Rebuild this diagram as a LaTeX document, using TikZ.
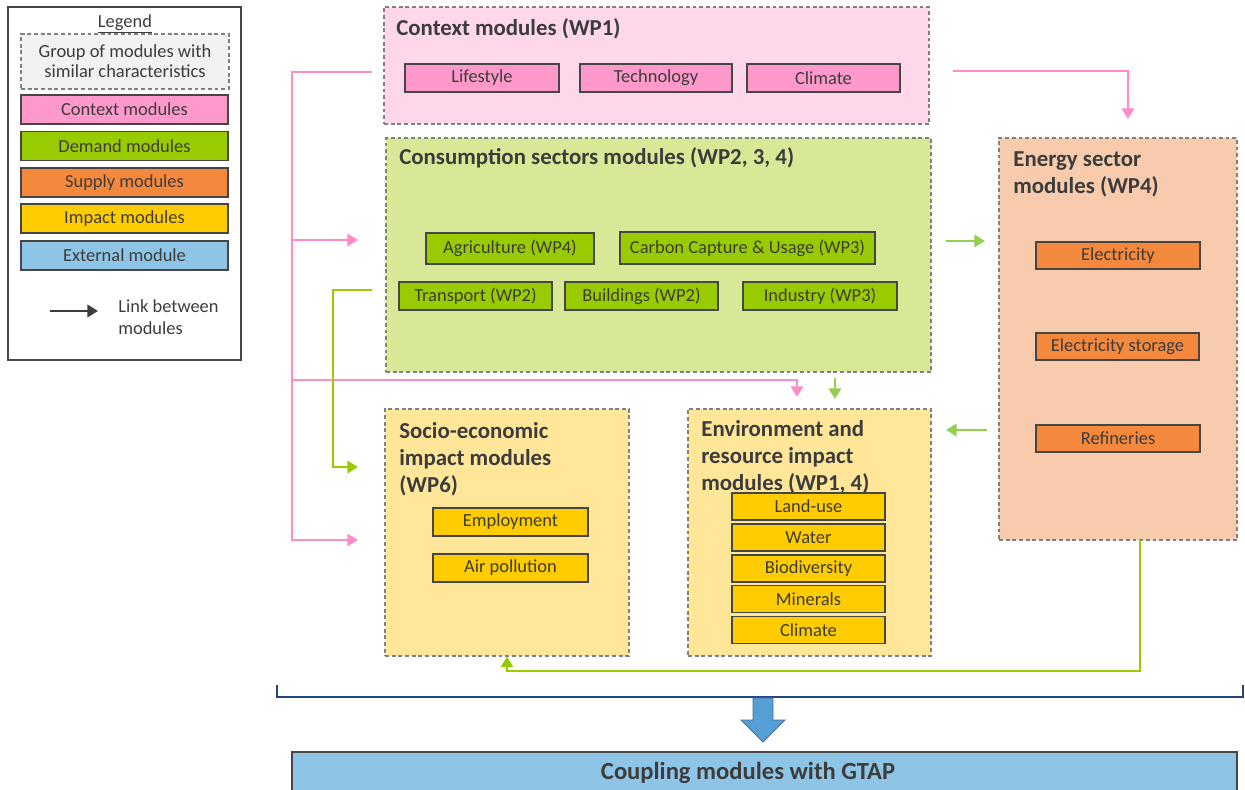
\documentclass[tikz,border=0pt]{standalone}
\usepackage{fontspec}
\setmainfont{Carlito}
\usetikzlibrary{
  arrows.meta,
  fit
}
\definecolor{txtgray}{RGB}{60,60,60}
\definecolor{boxline}{RGB}{70,70,70}
\definecolor{grpline}{RGB}{128,128,128}
\definecolor{lggray}{RGB}{242,242,242}
\definecolor{ctxbg}{RGB}{255,215,234}
\definecolor{ctxbox}{RGB}{255,153,204}
\definecolor{consbg}{RGB}{215,232,150}
\definecolor{consbox}{RGB}{153,204,0}
\definecolor{enbg}{RGB}{248,203,173}
\definecolor{enbox}{RGB}{244,136,60}
\definecolor{impbg}{RGB}{255,230,153}
\definecolor{impbox}{RGB}{255,204,0}
\definecolor{extbox}{RGB}{142,196,230}
\definecolor{extarrow}{RGB}{84,160,213}
\definecolor{pinkline}{RGB}{255,140,200}
\definecolor{greenA}{RGB}{153,204,0}
\definecolor{greenB}{RGB}{146,208,80}
\definecolor{navyline}{RGB}{31,73,125}

\begin{document}
\begin{tikzpicture}[x=0.02cm, y=-0.02cm,
  every node/.style={font=\fontsize{10.5}{11.5}\selectfont, text=txtgray},
  group/.style={draw=grpline, dash pattern=on 2.2pt off 1.6pt, line width=0.7pt, inner sep=0pt},
  title/.style={anchor=west, inner sep=0pt, align=left, font=\fontsize{13}{15.3}\selectfont\bfseries},
  modbox/.style={draw=boxline, line width=0.8pt, inner sep=0pt, minimum height=0.56cm},
  pinkln/.style={draw=pinkline, line width=1.4pt, -{Triangle[length=6pt,width=7pt]}},
  greenln/.style={draw=greenA, line width=1.4pt, -{Triangle[length=6pt,width=7pt]}},
  lightln/.style={draw=greenB, line width=1.4pt, -{Triangle[length=6pt,width=7pt]}},
  linkln/.style={draw=txtgray, line width=1.4pt, -{Triangle[length=6pt,width=7pt]}}
]
\useasboundingbox (0,0) rectangle (1245,790);

% legend
\node[draw=boxline, line width=0.6pt, inner sep=0pt, fit={(8,7) (241,360)}] (legend) {};
\node (legT) at (125,24) {\underline{Legend}};
\node[group, fill=lggray, fit={(21,34) (229,89)}] (lgGroup) {};
\node[align=center] (lgGroupT) at (lgGroup) {Group of modules with\\similar characteristics};
\node[modbox, fill=ctxbox, minimum width=4.14cm, minimum height=0.58cm] (lgCtx) at (124.5,109.5) {Context modules};
\node[modbox, fill=consbox, minimum width=4.14cm, minimum height=0.58cm] (lgDem) at (124.5,146) {Demand modules};
\node[modbox, fill=enbox, minimum width=4.14cm, minimum height=0.58cm] (lgSup) at (124.5,182.5) {Supply modules};
\node[modbox, fill=impbox, minimum width=4.14cm, minimum height=0.58cm] (lgImp) at (124.5,218.5) {Impact modules};
\node[modbox, fill=extbox, minimum width=4.14cm, minimum height=0.58cm] (lgExt) at (124.5,255.5) {External module};
\coordinate (lgA) at (50,311);
\coordinate (lgB) at (98,311);
\draw[linkln] (lgA) -- (lgB);
\node[anchor=west, align=left, inner sep=0pt, font=\fontsize{10.5}{12.5}\selectfont] (lgLink) at (118,317) {Link between\\modules};

% context modules
\node[group, fill=ctxbg, fit={(384,7) (929,124)}] (ctx) {};
\node[title] (ctxT) at (396,29) {Context modules (WP1)};
\node[modbox, fill=ctxbox, minimum width=3.08cm] (life) at (482,78) {Lifestyle};
\node[modbox, fill=ctxbox, minimum width=3.04cm] (tech) at (656,78) {Technology};
\node[modbox, fill=ctxbox, minimum width=3.06cm] (clim) at (823.5,78) {Climate};

% consumption sectors
\node[group, fill=consbg, fit={(386,138) (931,372)}] (cons) {};
\node[title] (consT) at (399,158) {Consumption sectors modules (WP2, 3, 4)};
\node[modbox, fill=consbox, minimum width=3.36cm, minimum height=0.62cm] (agri) at (510,248.5) {Agriculture (WP4)};
\node[modbox, fill=consbox, minimum width=5.1cm, minimum height=0.64cm] (ccu) at (747.5,248) {Carbon Capture \& Usage (WP3)};
\node[modbox, fill=consbox, minimum width=3.06cm] (trans) at (475.5,296) {Transport (WP2)};
\node[modbox, fill=consbox, minimum width=3.06cm] (build) at (641.5,296) {Buildings (WP2)};
\node[modbox, fill=consbox, minimum width=3.08cm] (indus) at (820,296) {Industry (WP3)};

% energy sector
\node[group, fill=enbg, fit={(999,138) (1237,540)}] (en) {};
\node[title] (enT) at (1013,174) {Energy sector\\modules (WP4)};
\node[modbox, fill=enbox, minimum width=3.28cm, minimum height=0.54cm] (elec) at (1118,255.5) {Electricity};
\node[modbox, fill=enbox, minimum width=3.26cm, minimum height=0.54cm] (stor) at (1117.5,346.5) {Electricity storage};
\node[modbox, fill=enbox, minimum width=3.28cm, minimum height=0.54cm] (refin) at (1118,438.5) {Refineries};

% socio-economic impacts
\node[group, fill=impbg, fit={(385,409) (629,656)}] (soc) {};
\node[title] (socT) at (399,459) {Socio-economic\\impact modules\\(WP6)};
\node[modbox, fill=impbox, minimum width=3.1cm] (empl) at (510.5,522) {Employment};
\node[modbox, fill=impbox, minimum width=3.1cm] (airp) at (510.5,568) {Air pollution};

% environment and resource impacts
\node[group, fill=impbg, fit={(688,409) (931,656)}] (env) {};
\node[title] (envT) at (701,457) {Environment and\\resource impact\\modules (WP1, 4)};
\node[modbox, fill=impbox, minimum width=3.06cm, minimum height=0.54cm] (land) at (808.5,506.5) {Land-use};
\node[modbox, fill=impbox, minimum width=3.06cm, minimum height=0.54cm] (water) at (808.5,537.5) {Water};
\node[modbox, fill=impbox, minimum width=3.06cm, minimum height=0.54cm] (bio) at (808.5,568.5) {Biodiversity};
\node[modbox, fill=impbox, minimum width=3.06cm, minimum height=0.54cm] (mine) at (808.5,599) {Minerals};
\node[modbox, fill=impbox, minimum width=3.06cm, minimum height=0.54cm] (climI) at (808.5,630) {Climate};

% coupling with GTAP
\node[draw=boxline, line width=0.6pt, fill=extbox, inner sep=0pt, fit={(292,752) (1237,794)}] (gtap) {};
\node[font=\fontsize{14}{17}\selectfont\bfseries] (gtapT) at (748,773) {Coupling modules with GTAP};

% connectors
\coordinate (ctxOut) at (372,72);
\coordinate (trunkTop) at (292,72);
\coordinate (trunkBot) at (292,540);
\coordinate (consIn) at (358,240);
\coordinate (socIn) at (358,540);
\coordinate (envTurn) at (797,380);
\coordinate (envIn) at (797,397);
\coordinate (ctxEOut) at (953,71);
\coordinate (enIn) at (1128,119);
\draw[pinkln] (ctxOut) -- (trunkTop) -- (trunkBot) -- (socIn);
\draw[pinkln] (trunkTop |- consIn) -- (consIn);
\draw[pinkln] (trunkTop |- envTurn) -- (envTurn) -- (envIn);
\draw[pinkln] (ctxEOut) -| (enIn);

\coordinate (consOut) at (372,290);
\coordinate (gTurn) at (333,467);
\coordinate (socWIn) at (358,467);
\draw[greenln] (consOut) -| (gTurn) -- (socWIn);
\coordinate (consEOut) at (946,241);
\coordinate (enWIn) at (985,241);
\draw[lightln] (consEOut) -- (enWIn);
\coordinate (consSOut) at (835,378);
\coordinate (envNIn) at (835,399);
\draw[lightln] (consSOut) -- (envNIn);
\coordinate (enWOut) at (987,430);
\coordinate (envEIn) at (946,430);
\draw[lightln] (enWOut) -- (envEIn);
\coordinate (enOut) at (1140,540);
\coordinate (loopY) at (507,671);
\draw[greenln] (enOut) |- (loopY) -- (soc.south);

% bracket and block arrow
\draw[navyline, line width=1.3pt] (277,685) -- (277,697) -- (1243,697) -- (1243,685);
\draw[draw=navyline!80, fill=extarrow, line width=0.5pt] (753,698) -- (753,720) -- (741,720) -- (763,742) -- (785,720) -- (773,720) -- (773,698) -- cycle;
\end{tikzpicture}
\end{document}
